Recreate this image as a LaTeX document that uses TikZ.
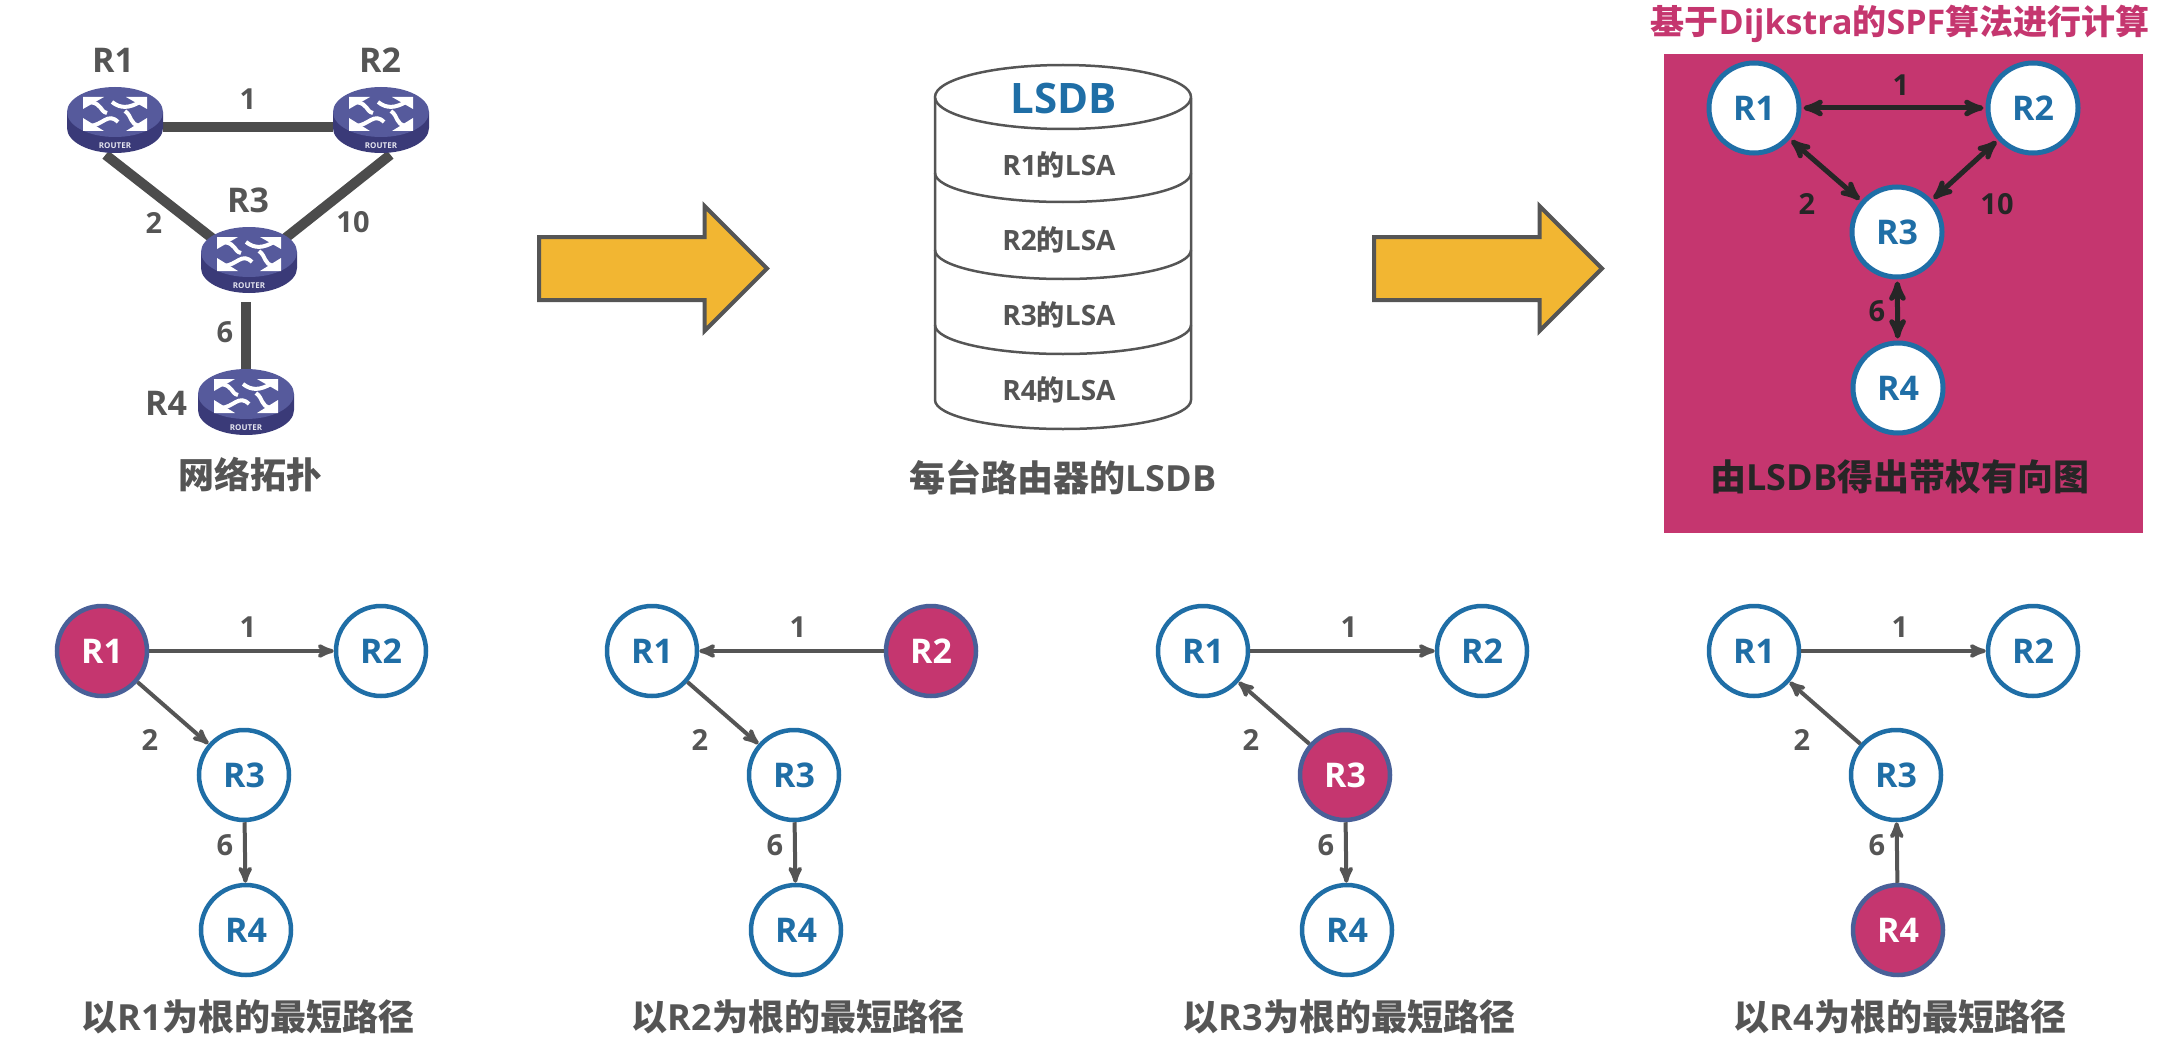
\documentclass[tikz,border=0pt]{standalone}
\usepackage{fontspec}
\setmainfont{Open Sans}
\newfontfamily\cnfont{Noto Sans CJK SC}
\newcommand{\cn}[1]{{\cnfont #1}}
\usetikzlibrary{arrows,shapes.geometric,shapes.arrows}

\definecolor{rose}{HTML}{C5366F}
\definecolor{nodeblue}{HTML}{1F6EA6}
\definecolor{inkgrey}{HTML}{555555}
\definecolor{routertop}{HTML}{565A9C}
\definecolor{routerside}{HTML}{3A3A78}
\definecolor{amber}{HTML}{F2B632}

\tikzset{
  vertex/.style={circle,draw=nodeblue,fill=white,line width=4.5pt,minimum size=90pt,inner sep=0pt,
    text=nodeblue,font=\fontsize{34}{34}\selectfont\bfseries},
  rootnode/.style={vertex,fill=rose,draw=nodeblue!75!rose,text=white},
  bigvertex/.style={vertex,line width=5pt},
  weight/.style={text=inkgrey,font=\fontsize{29}{29}\selectfont\bfseries},
  caption/.style={text=inkgrey,font=\fontsize{36}{36}\selectfont\bfseries},
  routernode/.style={ellipse,minimum width=96pt,minimum height=70pt,inner sep=0pt},
  routername/.style={text=inkgrey,font=\fontsize{34}{34}\selectfont\bfseries},
  link/.style={line width=10pt,draw=inkgrey!90!black},
  treearrow/.style={->,>=stealth',line width=4pt,draw=inkgrey},
  fwd/.style={->},
  bwd/.style={<-},
  duplex/.style={<->,>=stealth',line width=5pt,draw=black!85,shorten >=2pt,shorten <=2pt},
  blockarrow/.style={single arrow,draw=inkgrey,fill=amber,line width=4pt,anchor=tail,
    minimum height=228pt,minimum width=124pt,single arrow head extend=31pt,inner xsep=0pt,inner ysep=29.5pt},
  dbline/.style={draw=inkgrey,line width=2.5pt},
  lsalabel/.style={text=inkgrey,font=\fontsize{28}{28}\selectfont\bfseries},
  routericon/.pic={
    \fill[routerside] (-48,8) arc[start angle=180,end angle=360,x radius=48pt,y radius=25pt]
      -- (48,-8) -- (-48,-8) -- cycle;
    \fill[routertop] (0,-8) ellipse[x radius=48pt,y radius=25pt];
    \fill[white] (-32,-23) -- (-11,-23) -- (-32,-11) -- cycle
      (32,-23) -- (11,-23) -- (32,-11) -- cycle
      (-32,11) -- (-11,11) -- (-32,-2) -- cycle
      (32,11) -- (11,11) -- (32,-2) -- cycle;
    \begin{scope}[draw=white,line width=4pt]
      \draw (-25,-18) .. controls (-12,-16) and (-16,-9) .. (-8,-7);
      \draw (25,-18) .. controls (14,-12) and (6,-11) .. (-3,-18);
      \draw (-25,6) .. controls (-12,5) and (-7,-8) .. (3,2);
      \draw (25,6) .. controls (14,4) and (18,-3) .. (10,-9);
    \end{scope}
    \node[text=white!85!routertop,font=\fontsize{8}{8}\selectfont\bfseries,inner sep=0pt] at (0,26) {ROUTER};
  }
}

\begin{document}
\begin{tikzpicture}[x=1pt,y=-1pt]
  \useasboundingbox (0,0) rectangle (2164,1038);

  % topology
  \node[routernode] (T1) at (115,127) {};
  \node[routernode] (T2) at (381,127) {};
  \node[routernode] (T3) at (249,267) {};
  \node[routernode] (T4) at (246,409) {};
  \draw[link] (T1) -- (T2);
  \draw[link,shorten <=-12pt] (T1.south) -- (T3.center);
  \draw[link,shorten <=-12pt] (T2.south) -- (T3.center);
  \draw[link] ([xshift=-3pt]T3.south) -- (T4.north);
  \foreach \i in {1,2,3,4}
    \pic[yshift=7pt] at (T\i) {routericon};
  \node[routername] (TN1) at (113,60) {R1};
  \node[routername] (TN2) at (380,60) {R2};
  \node[routername] (TN3) at (248,200) {R3};
  \node[routername] (TN4) at (166,403) {R4};
  \node[weight] (TW1) at (248,99) {1};
  \node[weight] (TW2) at (154,223) {2};
  \node[weight] (TW3) at (353,222) {10};
  \node[weight] (TW4) at (225,332) {6};
  \node[caption] (TC) at (250,475) {\cn{网络拓扑}};

  \node[blockarrow] (A1) at (537,268.5) {};

  % database
  \draw[dbline] (935,98) -- (935,400) arc[start angle=180,end angle=360,x radius=128pt,y radius=29pt] -- (1191,98);
  \draw[dbline] (1063,97) ellipse[x radius=128pt,y radius=32pt];
  \foreach \y in {173,250,325}
    \draw[dbline] (935,\y) arc[start angle=180,end angle=360,x radius=128pt,y radius=29pt];
  \node[text=nodeblue,font=\fontsize{42}{42}\selectfont\bfseries] (DBT) at (1064,98) {LSDB};
  \foreach \i/\y in {1/165,2/240,3/315,4/390}
    \node[lsalabel] (L\i) at (1059,\y) {R\i\cn{的}LSA};
  \node[caption] (DBC) at (1063,477) {\cn{每台路由器的}LSDB};

  \node[blockarrow] (A2) at (1372,268.5) {};

  % weighted graph
  \fill[rose] (1664,54) rectangle (2143,533);
  \node[text=rose,font=\fontsize{34}{34}\selectfont\bfseries] (GT) at (1900,24) {\cn{基于}Dijkstra\cn{的}SPF\cn{算法进行计算}};
  \node[bigvertex] (G1) at (1754,108) {R1};
  \node[bigvertex] (G2) at (2033,108) {R2};
  \node[bigvertex] (G3) at (1897,232) {R3};
  \node[bigvertex] (G4) at (1898,388) {R4};
  \draw[duplex] (G1) -- (G2);
  \draw[duplex] (G1) -- (G3);
  \draw[duplex] (G2) -- (G3);
  \draw[duplex] (G3) -- (G4);
  \node[weight,text=black!85] (GW1) at (1901,85) {1};
  \node[weight,text=black!85] (GW2) at (1807,204) {2};
  \node[weight,text=black!85] (GW3) at (1997,204) {10};
  \node[weight,text=black!85] (GW4) at (1877,311) {6};
  \node[caption,text=black!85] (GC) at (1900,477) {\cn{由}LSDB\cn{得出带权有向图}};

  % shortest path trees
  \foreach \g/\dx/\sa/\sb/\sc/\sd/\ea/\eb/\ec in {
      1/0/rootnode/vertex/vertex/vertex/fwd/fwd/fwd,
      2/550/vertex/rootnode/vertex/vertex/bwd/fwd/fwd,
      3/1101/vertex/vertex/rootnode/vertex/fwd/bwd/fwd,
      4/1652/vertex/vertex/vertex/rootnode/fwd/bwd/bwd} {
    \begin{scope}[shift={(\dx,0)}]
      \node[\sa] (P\g-1) at (102,651) {R1};
      \node[\sb] (P\g-2) at (381,651) {R2};
      \node[\sc] (P\g-3) at (244,775) {R3};
      \node[\sd] (P\g-4) at (246,930) {R4};
      \draw[treearrow,\ea] (P\g-1) -- (P\g-2);
      \draw[treearrow,\eb] (P\g-1) -- (P\g-3);
      \draw[treearrow,\ec] (P\g-3) -- (P\g-4);
      \node[weight] (PW\g-1) at (248,627) {1};
      \node[weight] (PW\g-2) at (150,740) {2};
      \node[weight] (PW\g-3) at (225,845) {6};
      \node[caption] (PC\g) at (248,1017) {\cn{以}R\g\cn{为根的最短路径}};
    \end{scope}
  }
\end{tikzpicture}
\end{document}
